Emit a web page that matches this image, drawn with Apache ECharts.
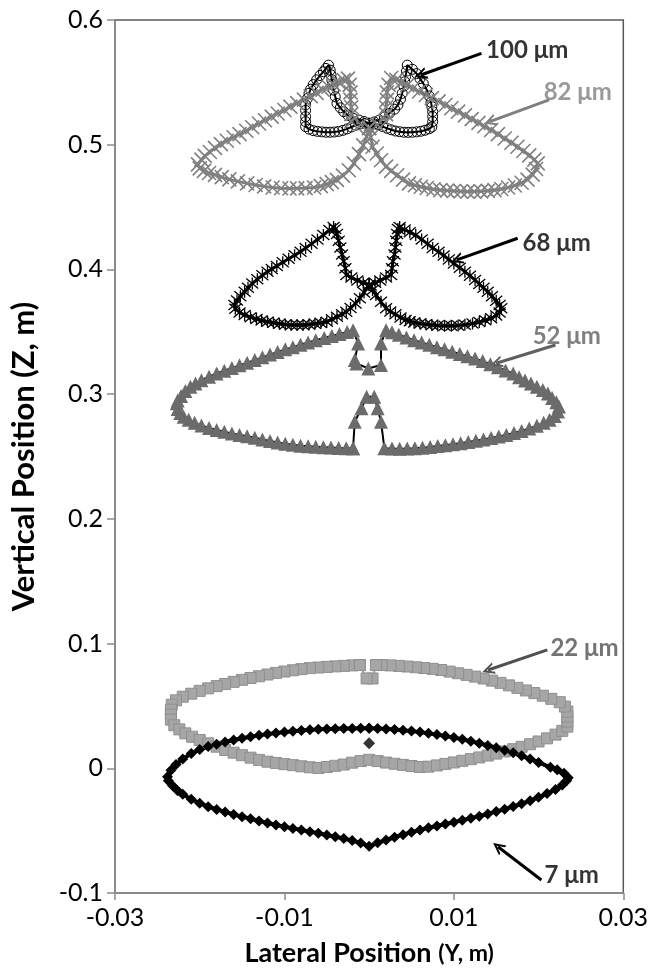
<!DOCTYPE html>
<html>
<head>
<meta charset="utf-8">
<script src="https://cdn.jsdelivr.net/npm/echarts@6/dist/echarts.min.js"></script>
<style>html,body{margin:0;padding:0;background:#fff}#c{width:651px;height:975px}</style>
</head>
<body>
<div id="c"></div>
<script>
// ---- data: [lateral Y (m), vertical Z (m)] ----
const s7 = [
 [0,0.0321],[-0.001,0.0321],[-0.002,0.0320],[-0.003,0.0319],[-0.004,0.0317],[-0.005,0.0315],[-0.006,0.0312],[-0.007,0.0308],[-0.008,0.0303],[-0.009,0.0297],[-0.010,0.0290],[-0.011,0.0283],[-0.012,0.0274],[-0.013,0.0264],[-0.014,0.0253],[-0.015,0.0241],[-0.016,0.0227],[-0.017,0.0211],[-0.018,0.0193],[-0.019,0.0174],[-0.020,0.0150],[-0.021,0.0118],[-0.022,0.0075],[-0.0228,0.0030],[-0.0234,-0.0015],[-0.0238,-0.0067],
 [-0.0237,-0.0100],[-0.0232,-0.0140],[-0.0226,-0.0180],[-0.022,-0.0208],[-0.021,-0.0248],[-0.020,-0.0280],[-0.019,-0.0308],[-0.018,-0.0330],[-0.017,-0.0350],[-0.016,-0.0370],[-0.015,-0.0388],[-0.014,-0.0405],[-0.013,-0.0422],[-0.012,-0.0438],[-0.011,-0.0455],[-0.010,-0.0468],[-0.009,-0.0482],[-0.008,-0.0495],[-0.007,-0.0508],[-0.006,-0.0521],[-0.005,-0.0535],[-0.004,-0.0548],[-0.003,-0.0563],[-0.002,-0.0580],[-0.001,-0.0600],[0,-0.0625],
 [0.001,-0.0598],[0.002,-0.0575],[0.003,-0.0553],[0.004,-0.0532],[0.005,-0.0512],[0.006,-0.0494],[0.007,-0.0477],[0.008,-0.0462],[0.009,-0.0447],[0.010,-0.0432],[0.011,-0.0416],[0.012,-0.0400],[0.013,-0.0384],[0.014,-0.0366],[0.015,-0.0347],[0.016,-0.0328],[0.017,-0.0307],[0.018,-0.0285],[0.019,-0.0260],[0.020,-0.0233],[0.021,-0.0203],[0.022,-0.0170],[0.0228,-0.0135],[0.0233,-0.0100],[0.0235,-0.0075],
 [0.0230,-0.0040],[0.0222,-0.0012],[0.0214,0.0008],[0.020,0.0047],[0.019,0.0075],[0.018,0.0100],[0.017,0.0124],[0.016,0.0145],[0.015,0.0165],[0.014,0.0183],[0.013,0.0200],[0.012,0.0216],[0.011,0.0232],[0.010,0.0246],[0.009,0.0258],[0.008,0.0270],[0.007,0.0280],[0.006,0.0290],[0.005,0.0298],[0.004,0.0305],[0.003,0.0311],[0.002,0.0316],[0.001,0.0319],[0,0.0321]
];
const s7center = [[0,0.0201]];
const s22 = [
 [-0.0011,0.0828],[-0.002,0.0825],[-0.003,0.0821],[-0.004,0.0817],[-0.005,0.0813],[-0.006,0.0808],[-0.007,0.0803],[-0.008,0.0795],[-0.009,0.0786],[-0.010,0.0776],[-0.011,0.0765],[-0.012,0.0752],[-0.013,0.0738],[-0.014,0.0724],[-0.015,0.0709],[-0.016,0.0693],[-0.017,0.0676],[-0.018,0.0659],[-0.019,0.0641],[-0.020,0.0621],[-0.021,0.0598],[-0.022,0.0574],[-0.0228,0.0545],[-0.0233,0.0510],[-0.0234,0.0470],[-0.0234,0.0430],[-0.0234,0.0390],[-0.0230,0.0345],
 [-0.0224,0.0312],[-0.0217,0.0280],[-0.0209,0.0253],[-0.020,0.0227],[-0.019,0.0200],[-0.018,0.0173],[-0.017,0.0147],[-0.016,0.0125],[-0.015,0.0105],[-0.014,0.0085],[-0.013,0.0067],[-0.012,0.0053],[-0.011,0.0043],[-0.010,0.0033],[-0.009,0.0025],[-0.008,0.0016],[-0.007,0.0008],[-0.006,0.0002],[-0.005,0.0010],[-0.004,0.0020],[-0.003,0.0030],[-0.002,0.0045],[-0.001,0.0058],[0,0.0068],
 [0.001,0.0058],[0.002,0.0046],[0.003,0.0036],[0.004,0.0027],[0.005,0.0018],[0.006,0.0010],[0.007,0.0013],[0.008,0.0023],[0.009,0.0035],[0.010,0.0047],[0.011,0.0060],[0.012,0.0073],[0.013,0.0087],[0.014,0.0102],[0.015,0.0118],[0.016,0.0135],[0.017,0.0153],[0.018,0.0172],[0.019,0.0193],[0.020,0.0215],[0.021,0.0240],[0.022,0.0270],[0.0228,0.0300],[0.0234,0.0334],
 [0.0234,0.0375],[0.0234,0.0415],[0.0234,0.0455],[0.0231,0.0495],[0.0225,0.0530],
 [0.0215,0.0557],[0.0205,0.0582],[0.0195,0.0603],[0.0185,0.0624],[0.0175,0.0645],[0.0165,0.0665],[0.0155,0.0685],[0.0145,0.0703],[0.0135,0.0720],[0.0125,0.0735],[0.0115,0.0749],[0.0105,0.0762],[0.0095,0.0775],[0.0085,0.0788],[0.0075,0.0797],[0.0065,0.0804],[0.0055,0.0810],[0.0045,0.0816],[0.0035,0.0821],[0.0025,0.0825],[0.0015,0.0828],[0.0008,0.0828],
 [0.0004,0.0720],[-0.0003,0.0720],[-0.0011,0.0828]
];
const s52 = [
 [-0.0019,0.2566],[-0.0017,0.2779],[-0.0009,0.2886],[-0.0003,0.2979],[0.0006,0.2979],[0.0010,0.2886],[0.0014,0.2779],[0.0018,0.2566],
 [0.0027,0.2564],[0.0036,0.2563],[0.0045,0.2564],[0.0054,0.2566],[0.0063,0.2571],[0.0072,0.2577],[0.0081,0.2584],[0.0090,0.2591],[0.0099,0.2599],[0.0108,0.2607],[0.0117,0.2616],[0.0126,0.2626],[0.0135,0.2637],[0.0144,0.2648],[0.0153,0.2660],[0.0162,0.2673],[0.0171,0.2688],[0.0180,0.2705],[0.0189,0.2724],[0.0198,0.2747],[0.0206,0.2770],[0.0213,0.2795],[0.0219,0.2825],[0.0223,0.2860],[0.0224,0.2900],
 [0.0221,0.2935],[0.0216,0.2970],[0.0211,0.3005],[0.0205,0.3033],[0.0198,0.3060],[0.0191,0.3085],[0.0184,0.3110],[0.0177,0.3135],[0.0170,0.3166],[0.0161,0.3190],[0.0152,0.3215],[0.0143,0.3240],[0.0134,0.3265],[0.0125,0.3285],[0.0116,0.3303],[0.0107,0.3322],[0.0098,0.3340],[0.0089,0.3359],[0.0080,0.3377],[0.0071,0.3396],[0.0062,0.3414],[0.0053,0.3433],[0.0044,0.3455],[0.0035,0.3477],[0.0027,0.3497],[0.0020,0.3513],
 [0.0014,0.3406],[0.0014,0.3233],[-0.0001,0.3206],[-0.0015,0.3246],[-0.0017,0.3273],[-0.0013,0.3406],[-0.0019,0.3513],
 [-0.0026,0.3498],[-0.0035,0.3482],[-0.0044,0.3466],[-0.0053,0.3451],[-0.0063,0.3433],[-0.0072,0.3415],[-0.0081,0.3396],[-0.0090,0.3377],[-0.0099,0.3359],[-0.0108,0.3338],[-0.0117,0.3317],[-0.0126,0.3295],[-0.0135,0.3273],[-0.0144,0.3252],[-0.0153,0.3231],[-0.0162,0.3209],[-0.0171,0.3188],[-0.0180,0.3166],[-0.0189,0.3140],[-0.0198,0.3112],[-0.0205,0.3085],[-0.0211,0.3059],[-0.0217,0.3025],[-0.0222,0.2985],[-0.0226,0.2950],[-0.0227,0.2926],
 [-0.0226,0.2880],[-0.0223,0.2848],[-0.0219,0.2819],[-0.0213,0.2795],[-0.0206,0.2770],[-0.0198,0.2748],[-0.0189,0.2729],[-0.0180,0.2712],[-0.0171,0.2698],[-0.0162,0.2685],[-0.0153,0.2673],[-0.0144,0.2662],[-0.0135,0.2650],[-0.0126,0.2637],[-0.0117,0.2625],[-0.0108,0.2613],[-0.0099,0.2602],[-0.0090,0.2594],[-0.0081,0.2587],[-0.0072,0.2582],[-0.0063,0.2578],[-0.0054,0.2575],[-0.0045,0.2572],[-0.0036,0.2569],[-0.0027,0.2567],[-0.0019,0.2566]
];
const s68 = [
 [0,0.3875],[-0.0007,0.3893],[-0.0014,0.3912],[-0.0021,0.3935],[-0.0027,0.3956],[-0.0028,0.4010],[-0.0030,0.4065],[-0.0032,0.4120],[-0.0034,0.4175],[-0.0036,0.4230],[-0.0038,0.4285],[-0.0040,0.4325],[-0.0042,0.4341],
 [-0.0047,0.4316],[-0.0054,0.4276],[-0.0061,0.4240],[-0.0068,0.4205],[-0.0075,0.4172],[-0.0081,0.4142],[-0.0088,0.4114],[-0.0095,0.4085],[-0.0102,0.4057],[-0.0109,0.4028],[-0.0115,0.4003],[-0.0120,0.3982],[-0.0126,0.3953],[-0.0132,0.3921],[-0.0138,0.3887],[-0.0143,0.3853],[-0.0147,0.3822],[-0.0152,0.3785],[-0.0156,0.3750],[-0.0159,0.3715],
 [-0.0158,0.3685],[-0.0153,0.3655],[-0.0147,0.3634],[-0.0140,0.3617],[-0.0133,0.3602],[-0.0127,0.3591],[-0.0120,0.3581],[-0.0113,0.3572],[-0.0106,0.3565],[-0.0099,0.3559],[-0.0092,0.3555],[-0.0085,0.3554],[-0.0078,0.3555],[-0.0071,0.3558],[-0.0064,0.3564],[-0.0057,0.3571],[-0.0050,0.3581],[-0.0044,0.3600],[-0.0038,0.3620],[-0.0032,0.3640],[-0.0027,0.3661],[-0.0022,0.3690],[-0.0016,0.3727],[-0.0011,0.3768],[-0.0006,0.3815],[0,0.3875],
 [0.0007,0.3893],[0.0013,0.3912],[0.0020,0.3935],[0.0026,0.3956],[0.0027,0.4010],[0.0028,0.4065],[0.0030,0.4120],[0.0031,0.4175],[0.0032,0.4230],[0.0033,0.4285],[0.0034,0.4325],[0.0036,0.4341],
 [0.0042,0.4320],[0.0048,0.4298],[0.0055,0.4276],[0.0062,0.4240],[0.0069,0.4205],[0.0075,0.4172],[0.0082,0.4142],[0.0088,0.4112],[0.0094,0.4080],[0.0100,0.4047],[0.0107,0.4013],[0.0113,0.3982],[0.0119,0.3950],[0.0125,0.3915],[0.0130,0.3883],[0.0135,0.3853],[0.0140,0.3822],[0.0145,0.3785],[0.0150,0.3748],[0.0154,0.3715],[0.0156,0.3688],
 [0.0154,0.3655],[0.0150,0.3630],[0.0144,0.3608],[0.0137,0.3592],[0.0130,0.3578],[0.0122,0.3566],[0.0113,0.3556],[0.0105,0.3551],[0.0097,0.3549],[0.0089,0.3549],[0.0081,0.3551],[0.0074,0.3554],[0.0067,0.3560],[0.0060,0.3567],[0.0053,0.3575],[0.0048,0.3584],[0.0043,0.3594],[0.0037,0.3615],[0.0031,0.3640],[0.0025,0.3662],[0.0020,0.3688],[0.0014,0.3740],[0.0008,0.3795],[0.0004,0.3835],[0,0.3875]
];
const s82 = [
 [0,0.5135],[-0.0010,0.5160],[-0.0021,0.5185],[-0.0021,0.5245],[-0.0021,0.5300],[-0.0022,0.5360],[-0.0022,0.5420],[-0.0023,0.5480],[-0.0025,0.5530],
 [-0.0030,0.5518],[-0.0036,0.5502],[-0.0042,0.5484],[-0.0048,0.5465],[-0.0055,0.5442],[-0.0062,0.5416],[-0.0069,0.5390],[-0.0077,0.5362],[-0.0085,0.5333],[-0.0093,0.5305],[-0.0100,0.5278],[-0.0108,0.5250],[-0.0115,0.5225],[-0.0123,0.5196],[-0.0130,0.5170],[-0.0138,0.5140],[-0.0145,0.5112],[-0.0153,0.5085],[-0.0160,0.5060],[-0.0168,0.5032],[-0.0175,0.5005],[-0.0182,0.4975],[-0.0188,0.4942],[-0.0194,0.4910],[-0.0198,0.4880],[-0.0202,0.4842],
 [-0.0200,0.4810],[-0.0195,0.4790],[-0.0189,0.4773],[-0.0182,0.4758],[-0.0174,0.4740],[-0.0165,0.4722],[-0.0155,0.4706],[-0.0144,0.4690],[-0.0134,0.4677],[-0.0124,0.4666],[-0.0114,0.4657],[-0.0104,0.4651],[-0.0094,0.4649],[-0.0085,0.4650],[-0.0075,0.4652],[-0.0065,0.4657],[-0.0057,0.4668],[-0.0050,0.4684],[-0.0044,0.4700],[-0.0038,0.4718],[-0.0031,0.4752],[-0.0024,0.4795],[-0.0018,0.4850],[-0.0012,0.4925],[-0.0007,0.4995],[-0.0003,0.5065],[0,0.5135],
 [0.0010,0.5160],[0.0020,0.5185],[0.0020,0.5245],[0.0020,0.5300],[0.0021,0.5360],[0.0021,0.5420],[0.0023,0.5480],[0.0026,0.5535],
 [0.0032,0.5520],[0.0038,0.5500],[0.0045,0.5478],[0.0052,0.5453],[0.0059,0.5427],[0.0067,0.5399],[0.0074,0.5374],[0.0082,0.5347],[0.0090,0.5318],[0.0097,0.5292],[0.0105,0.5265],[0.0113,0.5235],[0.0121,0.5205],[0.0129,0.5175],[0.0136,0.5148],[0.0144,0.5118],[0.0152,0.5085],[0.0160,0.5050],[0.0168,0.5016],[0.0175,0.4984],[0.0182,0.4950],[0.0189,0.4915],[0.0195,0.4880],[0.0199,0.4850],
 [0.0197,0.4805],[0.0193,0.4760],[0.0187,0.4720],[0.0180,0.4695],[0.0172,0.4673],[0.0164,0.4657],[0.0156,0.4645],[0.0148,0.4636],[0.0140,0.4630],[0.0132,0.4626],[0.0124,0.4624],[0.0116,0.4624],[0.0108,0.4626],[0.0100,0.4629],[0.0092,0.4632],[0.0084,0.4636],[0.0076,0.4643],[0.0068,0.4653],[0.0061,0.4663],[0.0054,0.4675],[0.0047,0.4690],[0.0040,0.4720],[0.0033,0.4755],[0.0026,0.4790],[0.0020,0.4824],[0.0014,0.4875],[0.0009,0.4930],[0.0004,0.4984],[0.0002,0.5060],[0,0.5135]
];
const s100 = [
 [0,0.5172],[-0.0006,0.5186],[-0.0012,0.5198],[-0.0019,0.5212],[-0.0025,0.5236],[-0.0030,0.5265],[-0.0034,0.5296],[-0.0038,0.5331],[-0.0040,0.5385],[-0.0042,0.5438],[-0.0043,0.5480],[-0.0044,0.5520],[-0.0045,0.5560],[-0.0046,0.5598],[-0.0048,0.5638],
 [-0.0051,0.5612],[-0.0054,0.5585],[-0.0058,0.5555],[-0.0062,0.5520],[-0.0066,0.5482],[-0.0069,0.5445],[-0.0071,0.5412],[-0.0073,0.5370],[-0.0075,0.5320],[-0.0075,0.5275],[-0.0075,0.5225],[-0.0075,0.5185],[-0.0075,0.5145],
 [-0.0071,0.5125],[-0.0066,0.5113],[-0.0061,0.5107],[-0.0056,0.5103],[-0.0051,0.5100],[-0.0046,0.5100],[-0.0041,0.5102],[-0.0036,0.5107],[-0.0031,0.5115],[-0.0026,0.5127],[-0.0021,0.5142],[-0.0016,0.5156],[-0.0011,0.5166],[-0.0005,0.5171],[0,0.5172],
 [0.0006,0.5167],[0.0011,0.5158],[0.0016,0.5145],[0.0021,0.5132],[0.0026,0.5120],[0.0031,0.5110],[0.0036,0.5104],[0.0041,0.5100],[0.0046,0.5099],[0.0051,0.5100],[0.0056,0.5103],[0.0061,0.5108],[0.0066,0.5116],[0.0071,0.5128],[0.0074,0.5142],
 [0.0075,0.5185],[0.0075,0.5225],[0.0075,0.5265],[0.0074,0.5305],[0.0073,0.5340],[0.0071,0.5390],[0.0068,0.5440],[0.0064,0.5490],[0.0060,0.5530],[0.0056,0.5570],[0.0051,0.5605],[0.0045,0.5638],
 [0.0044,0.5590],[0.0043,0.5546],[0.0042,0.5505],[0.0041,0.5470],[0.0039,0.5412],[0.0037,0.5365],[0.0034,0.5319],[0.0030,0.5285],[0.0024,0.5252],[0.0018,0.5222],[0.0012,0.5198],[0.0006,0.5183],[0,0.5172]
];
// annotations: label text, label anchor (left-middle), arrow tail, arrow head
const annNames = ['100 μm','82 μm','68 μm','52 μm','22 μm','7 μm'];
const annLabelPos = [[0.0138,0.5760],[0.0206,0.5423],[0.0181,0.4212],[0.0193,0.3466],[0.0214,0.0965],[0.0207,-0.0856]];
const annTail = [[0.01326,0.5733],[0.02123,0.5359],[0.01753,0.4250],[0.0220,0.3394],[0.02103,0.0949],[0.02033,-0.0896]];
const annHead = [[0.00608,0.5559],[0.01424,0.5185],[0.01035,0.4076],[0.0150,0.3248],[0.01404,0.0788],[0.0152,-0.0629]];
const annColors = ['#000000','#7f7f7f','#000000','#606060','#505050','#000000'];

const FONT = 'Lato';
const X_PATH = 'path://M0,0L10,10M10,0L0,10';
const AST_PATH = 'path://M0,0L10,10M10,0L0,10M5,-1L5,11';
const CHEVRON = 'path://M5,0L10,10L8.2,10L5,3.6L1.8,10L0,10Z';

function lineSeries(name, data, sym, size, itemStyle, lineColor, lineWidth){
  return {name, type:'line', data, symbol:sym, symbolSize:size, showSymbol:true, showAllSymbol:true,
    itemStyle, lineStyle:{color:lineColor, width:lineWidth}, smooth:false, silent:true, animation:false};
}

const chart = echarts.init(document.getElementById('c'), null, {renderer:'canvas'});
chart.setOption({
  backgroundColor:'#fff',
  animation:false,
  grid:{left:112, right:24, top:20, bottom:82, show:true, borderColor:'#595959', borderWidth:1.5},
  xAxis:{type:'value', min:-0.03, max:0.03, interval:0.02,
    axisLine:{show:true, onZero:false, lineStyle:{color:'#8c8c8c', width:1.5}},
    axisTick:{show:true, length:7, lineStyle:{color:'#8c8c8c', width:1.5}},
    splitLine:{show:false},
    axisLabel:{fontFamily:FONT, fontSize:25, color:'#000', margin:12,
      formatter:v=>String(Math.round(v*100)/100)},
    name:'{a|Lateral Position }{b|(Y, m)}', nameLocation:'middle', nameGap:47,
    nameTextStyle:{rich:{a:{fontFamily:FONT, fontSize:27, fontWeight:'bold', color:'#000'},
                          b:{fontFamily:FONT, fontSize:23, fontWeight:'bold', color:'#000'}}}
  },
  yAxis:{type:'value', min:-0.1, max:0.6, interval:0.1,
    axisLine:{show:true, onZero:false, lineStyle:{color:'#8c8c8c', width:1.5}},
    axisTick:{show:true, length:8, lineStyle:{color:'#8c8c8c', width:1.5}},
    splitLine:{show:false},
    axisLabel:{fontFamily:FONT, fontSize:25, color:'#000', margin:12,
      formatter:v=>String(Math.round(v*10)/10)},
    name:'Vertical Position (Z, m)', nameLocation:'middle', nameGap:76,
    nameTextStyle:{fontFamily:FONT, fontSize:31, fontWeight:'bold', color:'#000'}
  },
  series:[
    lineSeries('22 μm', s22, 'rect', 11, {color:'#a6a6a6', borderColor:'#8f8f8f', borderWidth:1}, '#a6a6a6', 2),
    lineSeries('7 μm', s7, 'diamond', 11, {color:'#000'}, '#000', 4),
    {name:'7 μm c', type:'scatter', data:s7center, symbol:'diamond', symbolSize:12, itemStyle:{color:'#000'}, silent:true},
    lineSeries('52 μm', s52, 'triangle', 14, {color:'#6b6b6b'}, '#000', 2),
    lineSeries('68 μm', s68, AST_PATH, 12, {color:'none', borderColor:'#000', borderWidth:1.3}, '#000', 3),
    lineSeries('100 μm', s100, 'circle', 10, {color:'rgba(255,255,255,0)', borderColor:'#000', borderWidth:1}, '#000', 2),
    lineSeries('82 μm', s82, X_PATH, 14, {color:'none', borderColor:'#808080', borderWidth:1.6}, '#808080', 3),
    {name:'labels', type:'scatter', silent:true, symbolSize:0,
      data: annNames.map((n,i)=>({name:n, value:annLabelPos[i],
        label:{show:true, formatter:'{b}', position:'right', distance:0, color:annColors[i],
          fontFamily:FONT, fontSize:24, fontWeight:'bold'}})),
      markLine:{silent:true, animation:false, symbol:['none', CHEVRON], symbolSize:[12,12], label:{show:false},
        data: annNames.map((n,i)=>[{coord:annTail[i], lineStyle:{color:annColors[i], width:3, type:'solid'}},{coord:annHead[i]}])}
    }
  ]
});
</script>
</body>
</html>
